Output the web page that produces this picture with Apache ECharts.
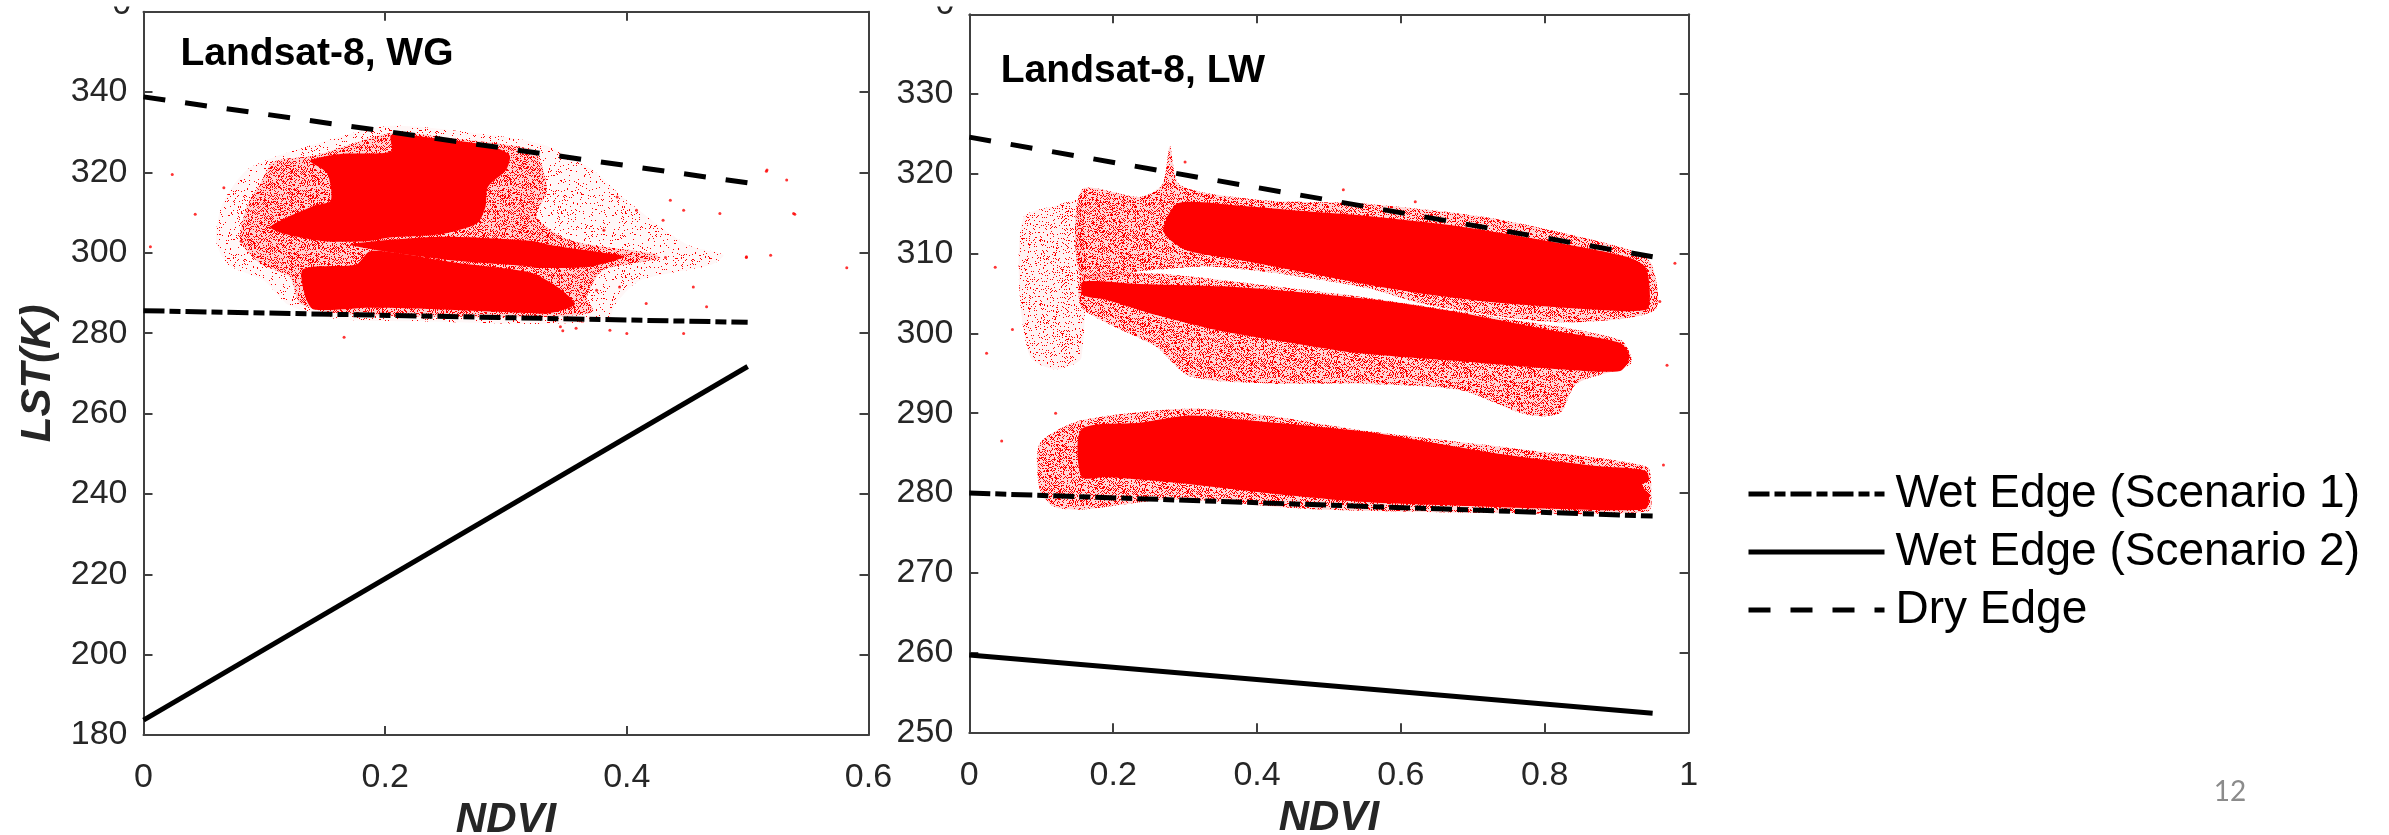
<!DOCTYPE html>
<html><head><meta charset="utf-8">
<script src="https://cdn.jsdelivr.net/npm/echarts@6/dist/echarts.min.js"></script>
<style>html,body{margin:0;padding:0;background:#fff}#chart{width:2389px;height:835px}</style>
</head><body><div id="chart"></div>
<script>
// ---------- Data ----------
const panelTitles = ['Landsat-8, WG', 'Landsat-8, LW'];
const legendNames = ['Wet Edge (Scenario 1)', 'Wet Edge (Scenario 2)', 'Dry Edge'];
const pageNumber = '12';
const croppedTopLabel = '0'; // bottom of a tick label cut off at the top of the slide

// Edge lines [NDVI, LST]
const wgDryEdge  = [[0, 338.8], [0.5, 317.4]];
const wgWetEdge1 = [[0, 285.6], [0.5, 282.7]];
const wgWetEdge2 = [[0, 183.7], [0.5, 271.7]];
const lwDryEdge  = [[0, 324.6], [0.95, 309.6]];
const lwWetEdge1 = [[0, 280.0], [0.95, 277.1]];
const lwWetEdge2 = [[0, 259.7], [0.95, 252.4]];

// Point-cloud outlines (dense cores) [NDVI, LST]
const wgCoreUpper = [[0.105,306.5],[0.14,311.6],[0.155,313.0],[0.152,319.8],[0.138,322.9],[0.163,324.6],[0.205,325.2],[0.205,329.3],[0.245,328.4],[0.287,326.6],[0.303,324.3],[0.300,320.6],[0.285,316.4],[0.283,311.4],[0.276,307.3],[0.245,304.6],[0.204,303.8],[0.185,302.9],[0.149,302.9],[0.118,304.6]];
const wgCoreTail = [[0.171,302.1],[0.245,304.0],[0.320,303.0],[0.339,301.8],[0.381,300.0],[0.398,299.0],[0.370,296.6],[0.325,296.2],[0.320,296.6],[0.259,298.0],[0.196,300.5]];
const wgCoreLower = [[0.132,295.9],[0.176,297.1],[0.1875,300.4],[0.218,299.6],[0.259,297.5],[0.32,295.1],[0.342,291.6],[0.357,287.2],[0.335,284.9],[0.32,285.0],[0.245,285.9],[0.1875,286.3],[0.141,285.9],[0.134,289.0]];
// sparse halo outlines
const wgHalo = [[0.0965,317.2],[0.1075,322.6],[0.143,324.3],[0.205,329.8],[0.259,328.4],[0.32,325.9],[0.328,323.0],[0.334,315.6],[0.3255,308.9],[0.353,303.1],[0.422,299.8],[0.4275,298.6],[0.3806,295.7],[0.367,289.0],[0.372,285.4],[0.339,284.1],[0.2454,284.1],[0.1627,284.9],[0.1296,287.4],[0.121,294.0],[0.0965,297.3],[0.08,303.1],[0.0854,311.4]];
const wgOuter = [[0.06,303],[0.065,312],[0.085,320.5],[0.12,325],[0.2,331.5],[0.27,330],[0.33,327],[0.37,321],[0.4,313],[0.45,302],[0.48,299.5],[0.47,297],[0.41,293],[0.39,287],[0.385,283.5],[0.33,282.3],[0.25,282.8],[0.16,283.5],[0.12,287],[0.1,293],[0.07,297]];
const wgOutliers = [[0.0238,319.5],[0.0057,301.5],[0.0428,309.6],[0.4989,298.8],[0.582,296.3],[0.5155,320.3],[0.539,309.6],[0.432,298.8],[0.166,279.0],[0.347,280.6],[0.361,283.1],[0.0665,316.2],[0.0808,302.9],[0.5323,318.1],[0.538,309.8],[0.516,320.6],[0.477,309.8],[0.436,313.1],[0.43,308.1],[0.447,310.6],[0.499,299.0],[0.519,299.4],[0.447,279.9],[0.4,279.9],[0.386,280.7],[0.358,281.2],[0.345,281.6],[0.466,286.6],[0.455,291.5],[0.416,287.4],[0.394,291.5],[0.375,290.7],[0.381,305.6],[0.408,310.6],[0.392,313.9]];

const lwCoreUpper = [[0.27,312.8],[0.29,316.3],[0.376,316.0],[0.469,315.3],[0.543,314.8],[0.682,313.4],[0.821,311.3],[0.914,309.6],[0.94,308.3],[0.946,305.4],[0.942,303.0],[0.868,303.0],[0.729,303.9],[0.636,304.9],[0.543,306.3],[0.469,307.6],[0.376,309.2],[0.3,310.5]];
const lwCoreMiddle = [[0.158,306.5],[0.237,306.2],[0.376,305.8],[0.557,304.3],[0.682,302.6],[0.821,300.2],[0.905,298.8],[0.918,297.1],[0.905,295.3],[0.821,295.5],[0.682,296.5],[0.543,297.5],[0.469,298.5],[0.35,300.3],[0.26,302.3],[0.191,304.2],[0.158,304.8]];
const lwCoreLower = [[0.156,288.0],[0.237,288.8],[0.307,289.7],[0.376,289.2],[0.557,287.6],[0.729,285.0],[0.868,283.4],[0.94,282.8],[0.945,281.6],[0.935,281.0],[0.945,279.7],[0.94,278.0],[0.821,278.0],[0.682,278.4],[0.543,278.9],[0.423,279.9],[0.284,281.3],[0.191,282.0],[0.156,282.0]];
const lwHaloUpper = [[0.156,318.0],[0.237,317.1],[0.268,318.6],[0.279,323.5],[0.29,318.9],[0.33,317.6],[0.423,316.6],[0.543,316.3],[0.729,314.4],[0.914,310.6],[0.948,308.8],[0.953,302.9],[0.821,301.4],[0.636,303.6],[0.557,305.6],[0.423,307.6],[0.330,308.4],[0.237,307.8],[0.156,307.1]];
const lwHaloMiddle = [[0.156,307.1],[0.26,307.5],[0.423,305.9],[0.543,304.6],[0.729,302.1],[0.905,299.2],[0.92,296.2],[0.844,293.7],[0.821,290],[0.775,289.8],[0.682,292.9],[0.543,293.7],[0.423,293.7],[0.307,294.6],[0.26,298.3],[0.191,301.3],[0.156,303.3]];
const lwHaloLower = [[0.098,286.2],[0.156,289.1],[0.307,290.6],[0.423,289.6],[0.543,287.9],[0.775,285.4],[0.942,283.3],[0.948,280.4],[0.944,277.7],[0.729,277.5],[0.469,278.0],[0.284,279.2],[0.156,277.9],[0.117,278.3],[0.098,280.4]];
const lwHaloLeft = [[0.075,314.5],[0.12,316],[0.156,316.5],[0.156,297],[0.12,295.5],[0.085,297],[0.07,305]];
const lwOutliers = [[0.024,297.5],[0.036,308.3],[0.981,308.8],[0.06,300.5],[0.045,286.5],[0.97,296],[0.965,283.5],[0.3,321.5],[0.52,318],[0.62,316.5],[0.12,290],[0.96,304]];

// ---------- Chart ----------
const FONT = '"Liberation Sans", Arial, sans-serif';
const AX = '#404040';
const TXT = '#262626';
const RED = '#ff0000';

// Grainy fill texture (style only) so sparse halos read as speckle rather than flat tint
function speckle(density, baseAlpha, seed) {
  const size = 64;
  const c = document.createElement('canvas');
  c.width = c.height = size;
  const g = c.getContext('2d');
  g.fillStyle = 'rgba(255,0,0,' + baseAlpha + ')';
  g.fillRect(0, 0, size, size);
  g.fillStyle = RED;
  let s = seed >>> 0;
  const n = Math.round(size * size * density);
  for (let i = 0; i < n; i++) {
    s = (Math.imul(s, 1664525) + 1013904223) >>> 0;
    const x = (s >>> 8) % size;
    s = (Math.imul(s, 1664525) + 1013904223) >>> 0;
    const y = (s >>> 8) % size;
    g.fillRect(x, y, 1, 1);
  }
  return { image: c, repeat: 'repeat' };
}
const HALO = speckle(0.38, 0.16, 7);
const OUTER = speckle(0.07, 0.03, 11);
const SPARSE = speckle(0.12, 0.05, 23);

function poly(pts, gi, fill, z) {
  return {
    type: 'custom', xAxisIndex: gi, yAxisIndex: gi, data: pts, z: z, silent: true, clip: true, animation: false,
    renderItem: function (params, api) {
      if (params.dataIndex !== 0) return null;
      return { type: 'polygon', shape: { points: pts.map(function (p) { return api.coord(p); }), smooth: 0.25 }, style: { fill: fill } };
    }
  };
}
function edge(name, pts, gi, type) {
  return {
    name: name, type: 'line', xAxisIndex: gi, yAxisIndex: gi, data: pts, symbol: 'none', z: 5, animation: false, silent: true,
    itemStyle: { color: '#000' },
    lineStyle: { color: '#000', width: 5, type: type, cap: 'butt' }
  };
}
function outliers(pts, gi) {
  return { type: 'scatter', xAxisIndex: gi, yAxisIndex: gi, data: pts, symbolSize: 3, z: 3, silent: true, animation: false, itemStyle: { color: RED } };
}
const DRY = [22, 20];
const WET1 = [21, 5, 11, 5];

function xAx(gi, max, pos) {
  const main = pos === 'bottom';
  return {
    gridIndex: gi, type: 'value', min: 0, max: max, interval: 0.2, position: pos,
    name: main ? 'NDVI' : '', nameLocation: 'middle', nameGap: 61,
    nameTextStyle: { fontSize: 42, fontWeight: 'bold', fontStyle: 'italic', color: TXT, fontFamily: FONT },
    axisLine: { show: true, onZero: false, lineStyle: { color: AX, width: 2 } },
    axisTick: { show: true, inside: true, length: 9, lineStyle: { color: AX, width: 2 } },
    axisLabel: { show: main, fontSize: 34, color: TXT, fontFamily: FONT, margin: 26 },
    splitLine: { show: false }
  };
}
function yAx(gi, min, max, interval, pos, name) {
  const main = pos === 'left';
  return {
    gridIndex: gi, type: 'value', min: min, max: max, interval: interval, position: pos,
    name: name, nameLocation: 'middle', nameGap: 84, nameRotate: 90,
    nameTextStyle: { fontSize: 42, fontWeight: 'bold', fontStyle: 'italic', color: TXT, fontFamily: FONT },
    axisLine: { show: true, onZero: false, lineStyle: { color: AX, width: 2 } },
    axisTick: { show: true, inside: true, length: 9, lineStyle: { color: AX, width: 2 } },
    axisLabel: { show: main, fontSize: 34, color: TXT, fontFamily: FONT, margin: 16, showMaxLabel: false },
    splitLine: { show: false }
  };
}

const chart = echarts.init(document.getElementById('chart'), null, { renderer: 'canvas' });
chart.setOption({
  backgroundColor: '#fff',
  animation: false,
  grid: [
    { left: 143.5, top: 11.7, width: 725, height: 723.3, containLabel: false, outerBoundsMode: 'none' },
    { left: 969.3, top: 14.3, width: 719.3, height: 718, containLabel: false, outerBoundsMode: 'none' }
  ],
  xAxis: [xAx(0, 0.6, 'bottom'), xAx(1, 1, 'bottom'), xAx(0, 0.6, 'top'), xAx(1, 1, 'top')],
  yAxis: [yAx(0, 180, 360, 20, 'left', 'LST(K)'), yAx(1, 250, 340, 10, 'left', ''), yAx(0, 180, 360, 20, 'right', ''), yAx(1, 250, 340, 10, 'right', '')],
  legend: {
    data: legendNames, orient: 'vertical', left: 1741, top: 466, itemWidth: 136, itemHeight: 2, itemGap: 12,
    selectedMode: false,
    itemStyle: { opacity: 0 },
    lineStyle: { width: 5 },
    textStyle: { fontSize: 46, color: '#000', fontFamily: FONT, lineHeight: 46, padding: [0, 0, 0, 6] }
  },
  graphic: [
    { type: 'text', x: 180.5, y: 54.5, z: 10, style: { text: panelTitles[0], font: 'bold 39px ' + FONT, fill: '#000', align: 'left', verticalAlign: 'middle' } },
    { type: 'text', x: 1000.8, y: 71.2, z: 10, style: { text: panelTitles[1], font: 'bold 39px ' + FONT, fill: '#000', align: 'left', verticalAlign: 'middle' } },
    { type: 'text', x: 2230, y: 792, z: 10, style: { text: pageNumber, font: '28px Lato, "Open Sans", sans-serif', fill: '#8b8b8b', align: 'center', verticalAlign: 'middle' } },
    { type: 'text', x: 121.7, y: 4.8, z: 10, style: { text: croppedTopLabel, font: '34px ' + FONT, fill: TXT, align: 'center', verticalAlign: 'middle' } },
    { type: 'text', x: 945, y: 4.8, z: 10, style: { text: croppedTopLabel, font: '34px ' + FONT, fill: TXT, align: 'center', verticalAlign: 'middle' } },
    { type: 'rect', z: 11, shape: { x: 100, y: 0, width: 45, height: 6.5 }, style: { fill: '#fff' } },
    { type: 'rect', z: 11, shape: { x: 922, y: 0, width: 45, height: 6.5 }, style: { fill: '#fff' } }
  ],
  series: [
    poly(wgOuter, 0, OUTER, 1),
    poly(wgHalo, 0, HALO, 1),
    poly(wgCoreUpper, 0, RED, 2),
    poly(wgCoreTail, 0, RED, 2),
    poly(wgCoreLower, 0, RED, 2),
    outliers(wgOutliers, 0),
    poly(lwHaloLeft, 1, SPARSE, 1),
    poly(lwHaloUpper, 1, HALO, 1),
    poly(lwHaloMiddle, 1, HALO, 1),
    poly(lwHaloLower, 1, HALO, 1),
    poly(lwCoreUpper, 1, RED, 2),
    poly(lwCoreMiddle, 1, RED, 2),
    poly(lwCoreLower, 1, RED, 2),
    outliers(lwOutliers, 1),
    edge(legendNames[0], wgWetEdge1, 0, WET1),
    edge(legendNames[1], wgWetEdge2, 0, 'solid'),
    edge(legendNames[2], wgDryEdge, 0, DRY),
    edge(legendNames[0], lwWetEdge1, 1, WET1),
    edge(legendNames[1], lwWetEdge2, 1, 'solid'),
    edge(legendNames[2], lwDryEdge, 1, DRY)
  ]
});
</script></body></html>
